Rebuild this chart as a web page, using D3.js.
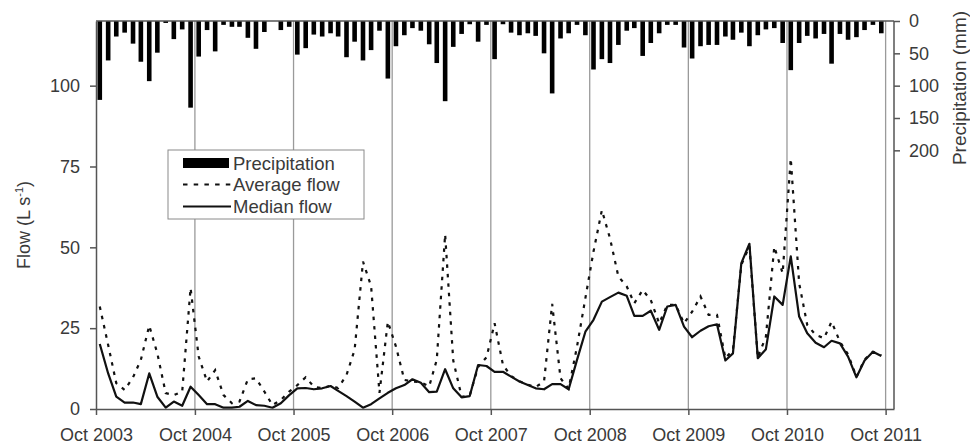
<!DOCTYPE html>
<html><head><meta charset="utf-8">
<script src="https://cdn.jsdelivr.net/npm/d3@7"></script>
<style>
body{margin:0;background:#fff}
text{font-family:"Liberation Sans",Arial,sans-serif;fill:#3a3a3a}
</style>
</head><body><svg id="c" width="970" height="446"></svg>
<script>
// Monthly data, Oct 2003 .. Sep 2011
const precipitation = [122,61,24,18,35,63,93,49,3,28,13,134,
 55,14,47,6,9,9,26,43,17,0,14,9,
 52,42,21,24,19,24,56,32,61,45,15,89,
 39,22,11,15,36,65,124,40,20,5,32,6,
 59,5,18,22,19,23,50,112,27,19,6,22,
 75,59,65,37,15,11,54,34,19,6,6,41,
 58,39,37,37,24,29,18,39,22,13,11,34,
 76,34,23,27,20,66,20,29,25,14,6,19];
const averageFlow = [31.7,19.8,8,5.9,9.8,15.2,25.8,17.2,4.9,4.3,5.4,37.4,
 16.2,8.5,12,4.3,1.8,2.3,9.2,9.5,5.4,1.2,2.8,5.4,
 7.4,9.8,6.9,6.4,7.2,6.5,10.5,18.3,45.6,38,5,27,
 19.3,9,8.5,8.3,7,15.2,54,15,3.8,4.2,13,16,
 26.5,13.6,10.2,8.6,7.5,6.8,8.5,32.5,9.5,6.3,19.3,34.3,
 48.7,61.5,52.8,41,37.9,32.7,36.8,33.7,26.5,32.2,32.2,26.5,
 30.1,34.8,29.1,29.1,15.7,18.3,44.6,50.3,15.9,22.4,50.2,42,
 77.5,38.9,26,22.9,21.9,27,20.8,16.9,9.9,15.3,17.7,16.6];
const medianFlow = [20.1,11,3.8,2,2,1.5,11,3.8,0.4,2.3,1,6.9,
 4.3,1.5,1.5,0.4,0.4,0.7,2.5,1.2,1,0.4,1.8,4.3,
 6.4,6.5,6.1,6.4,7.1,5.6,4,2.3,0.4,1.5,3.3,5,
 6.4,7.4,9.2,8.1,5.2,5.4,12.3,6.4,3.6,4,13.6,13.3,
 11.5,11.5,10,8.5,7.4,6.4,6.1,7.7,7.7,6.1,15.2,23.9,
 27.6,33.2,34.6,36,35,28.8,28.8,30.4,24.5,31.7,32.2,25.5,
 22.2,24.2,25.6,26.2,15,17.2,45.1,51.1,15.7,18.5,34.8,32.2,
 47.2,28.6,23.4,20.5,19.1,21.1,20.3,16.2,9.8,15,17.7,16.4];
const flowTicks = [0,25,50,75,100];
const precipTicks = [0,50,100,150,200];
const yearLabels = ["Oct 2003","Oct 2004","Oct 2005","Oct 2006","Oct 2007","Oct 2008","Oct 2009","Oct 2010","Oct 2011"];
const legendItems = ["Precipitation","Average flow","Median flow"];

const svg = d3.select("#c");
const L=96, R=894, T=21, B=409;
const months = precipitation.map((d,i)=>new Date(2003, 9+i, 15));
const yearDates = yearLabels.map((d,i)=>new Date(2003+i, 9, 1));
const x = d3.scaleTime().domain([new Date(2003,9,1), new Date(2011,10,1)]).range([L,R]);
const y = d3.scaleLinear().domain([0,120]).range([B,T]);
const yp = d3.scaleLinear().domain([0,600]).range([T,B]);

// gridlines
svg.append("g").selectAll("line").data(yearDates.slice(1)).join("line")
  .attr("x1",d=>x(d)).attr("x2",d=>x(d)).attr("y1",T).attr("y2",B)
  .attr("stroke","#9a9a9a").attr("stroke-width",1.3);

// precipitation bars
svg.append("g").selectAll("rect").data(precipitation).join("rect")
  .attr("x",(d,i)=>x(months[i])-2.3).attr("width",4.6)
  .attr("y",yp(0)).attr("height",d=>yp(d)-yp(0)).attr("fill","#000");

// frame top and right
svg.append("line").attr("x1",L).attr("x2",R).attr("y1",T).attr("y2",T).attr("stroke","#555").attr("stroke-width",1.5);
svg.append("line").attr("x1",R).attr("x2",R).attr("y1",T).attr("y2",B).attr("stroke","#555").attr("stroke-width",1.5);

// lines
const line = arr => d3.line().x((d,i)=>x(months[i])).y(d=>y(d))(arr);
svg.append("path").attr("d",line(averageFlow)).attr("fill","none")
  .attr("stroke","#111").attr("stroke-width",2.2).attr("stroke-dasharray","3.5,6");
svg.append("path").attr("d",line(medianFlow)).attr("fill","none")
  .attr("stroke","#111").attr("stroke-width",2.2).attr("stroke-linejoin","round");

// axes
function styleAxis(g){
  g.selectAll(".domain").attr("stroke","#555").attr("stroke-width",1.5);
  g.selectAll(".tick line").attr("stroke","#555").attr("stroke-width",1.5);
  g.selectAll("text").attr("font-size",18).attr("fill","#3a3a3a").attr("font-family","Liberation Sans, Arial, sans-serif");
}
svg.append("g").attr("transform",`translate(${L},0)`)
  .call(d3.axisLeft(y).tickValues(flowTicks).tickSize(6).tickSizeOuter(0).tickPadding(10)).call(styleAxis);
svg.append("g").attr("transform",`translate(0,${B})`)
  .call(d3.axisBottom(x).tickValues(yearDates).tickFormat((d,i)=>yearLabels[i]).tickSize(6).tickSizeOuter(0).tickPadding(13)).call(styleAxis);
const ra = svg.append("g").attr("transform",`translate(${R},0)`)
  .call(d3.axisRight(yp).tickValues(precipTicks).tickSize(6).tickSizeOuter(0).tickPadding(9)).call(styleAxis);
ra.select(".domain").remove();

// axis titles
const lt = svg.append("text").attr("transform","translate(30,225) rotate(-90)")
  .attr("text-anchor","middle").attr("font-size",18);
lt.append("tspan").text("Flow (L s");
lt.append("tspan").attr("font-size",11).attr("dy",-7).text("-1");
lt.append("tspan").attr("dy",7).text(")");
svg.append("text").attr("transform","translate(966,88) rotate(-90)")
  .attr("text-anchor","middle").attr("font-size",19).text("Precipitation (mm)");

// legend
const lg = svg.append("g");
lg.append("rect").attr("x",168).attr("y",150).attr("width",196).attr("height",69)
  .attr("fill","#fff").attr("stroke","#8a8a8a").attr("stroke-width",1);
const rowY = [163,184.5,206.5];
lg.append("rect").attr("x",183).attr("y",rowY[0]-5).attr("width",46).attr("height",10).attr("fill","#000");
lg.append("line").attr("x1",183).attr("x2",231).attr("y1",rowY[1]).attr("y2",rowY[1])
  .attr("stroke","#111").attr("stroke-width",2.2).attr("stroke-dasharray","4.5,6.2");
lg.append("line").attr("x1",183).attr("x2",231).attr("y1",rowY[2]).attr("y2",rowY[2])
  .attr("stroke","#111").attr("stroke-width",2);
lg.selectAll("text").data(legendItems).join("text")
  .attr("x",233).attr("y",(d,i)=>rowY[i]+6.5).attr("font-size",18.5).text(d=>d);
</script></body></html>
